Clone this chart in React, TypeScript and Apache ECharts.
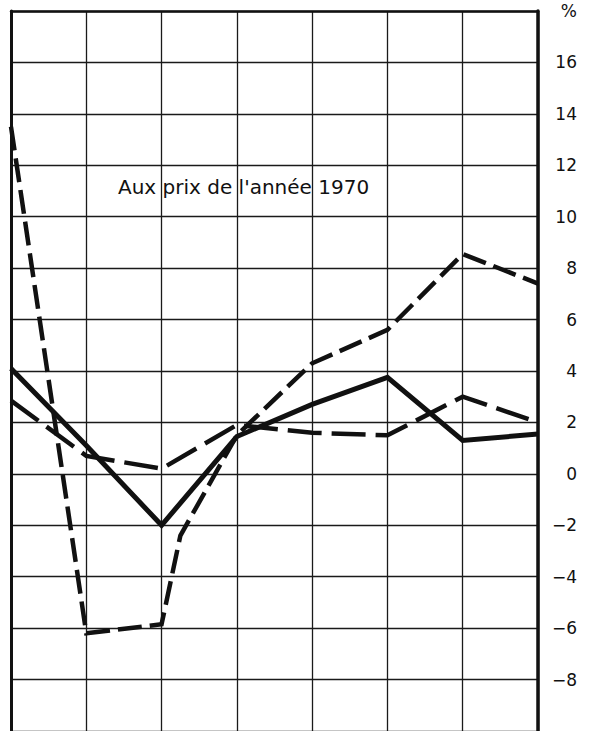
import React, { useEffect, useRef } from "react";
import * as echarts from "echarts";

// Period positions along the horizontal axis (one vertical rule per period)
const periods = [0, 1, 2, 3, 4, 5, 6, 7];

// Annual change, %
const solidSeries = [4.1, 1.1, -2.0, 1.45, 2.7, 3.75, 1.3, 1.55];
const longDashSeries = [2.85, 0.7, 0.2, 1.9, 1.6, 1.5, 3.0, 2.0];
const shortDashSeries = [13.5, -6.2, -5.85, 1.5, 4.3, 5.6, 8.55, 7.4];
// extra point where the recovery curve bends between periods 2 and 3
const shortDashBend: [number, number] = [2.25, -2.4];

const yTicks = [-8, -6, -4, -2, 0, 2, 4, 6, 8, 10, 12, 14, 16];
const unitLabel = "%";
const note = "Aux prix de l'année 1970";

const INK = "#111";
const FONT = "DejaVu Sans";

function pairs(values: number[]): [number, number][] {
  return values.map((v, i) => [periods[i], v]);
}

function withBend(values: number[], bend: [number, number]): [number, number][] {
  const pts = pairs(values);
  pts.push(bend);
  return pts.sort((a, b) => a[0] - b[0]);
}

export default function App() {
  const ref = useRef<HTMLDivElement>(null);

  useEffect(() => {
    if (!ref.current) return;
    const chart = echarts.init(ref.current, null, { renderer: "svg" });
    const grid = { color: "#1a1a1a", width: 1.3 };
    const lineBase = { color: INK, cap: "butt" as const, join: "miter" as const };
    const hidden = { show: false };

    chart.setOption({
      animation: false,
      backgroundColor: "#fff",
      grid: { left: 11, top: 11, width: 527, height: 721, show: false },
      xAxis: [
        {
          // top frame edge + vertical rules
          type: "value",
          position: "top",
          min: 0,
          max: 7,
          interval: 1,
          axisLine: { show: true, onZero: false, lineStyle: { color: INK, width: 2.5 } },
          axisTick: hidden,
          axisLabel: hidden,
          splitLine: { show: true, lineStyle: grid },
        },
      ],
      yAxis: [
        {
          type: "value",
          position: "right",
          min: -10,
          max: 18,
          interval: 2,
          axisLine: { show: true, onZero: false, lineStyle: { color: INK, width: 3.5 } },
          axisTick: hidden,
          splitLine: { show: true, lineStyle: grid },
          axisLabel: {
            margin: 39,
            align: "right",
            color: INK,
            fontFamily: FONT,
            fontSize: 17,
            formatter: (v: number) => {
              if (v === 18) return unitLabel;
              if (!yTicks.includes(v)) return "";
              return v < 0 ? "\u2212" + Math.abs(v) : String(v);
            },
            rich: {},
          },
        },
        {
          // left frame edge
          type: "value",
          position: "left",
          min: -10,
          max: 18,
          interval: 2,
          axisLine: { show: true, onZero: false, lineStyle: { color: INK, width: 3 } },
          axisTick: hidden,
          axisLabel: hidden,
          splitLine: hidden,
        },
      ],
      graphic: [
        {
          type: "text",
          left: 118,
          top: 177,
          z: 10,
          style: { text: note, fill: INK, font: `20px "${FONT}"` },
        },
      ],
      series: [
        {
          type: "line",
          data: pairs(solidSeries),
          symbol: "none",
          lineStyle: { ...lineBase, width: 5, type: "solid" },
          z: 3,
        },
        {
          type: "line",
          data: pairs(longDashSeries),
          symbol: "none",
          lineStyle: { ...lineBase, width: 4.5, type: [34, 10] },
          z: 3,
        },
        {
          type: "line",
          data: withBend(shortDashSeries, shortDashBend),
          symbol: "none",
          lineStyle: { ...lineBase, width: 4.5, type: [24, 8] },
          z: 3,
        },
      ],
    });
    return () => chart.dispose();
  }, []);

  return (
    <div
      ref={ref}
      style={{ position: "fixed", left: 0, top: 0, width: 591, height: 731 }}
    />
  );
}
